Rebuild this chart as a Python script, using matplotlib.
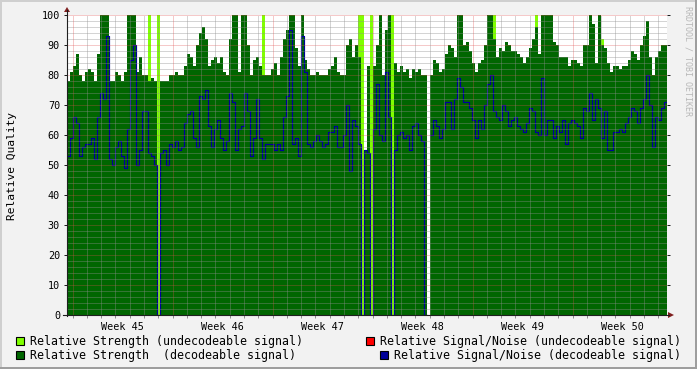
import numpy as np
import matplotlib
matplotlib.use("Agg")
import matplotlib.pyplot as plt
from matplotlib.patches import Rectangle, Polygon
from matplotlib.lines import Line2D

nan = np.nan

# ---- data (one sample every ~5 hours, starting shortly before week 45) ----
strength_dec = [
    78, 81, 83, 87, 80, 78, 81, 82, 81, 78,
    87, 100, 100, 100, 78, 78, 81, 80, 78, 81,
    100, 100, 100, 81, 86, 80, 80, 78, 79, 78,
    nan, 78, 78, 78, 80, 80, 81, 80, 80, 83,
    87, 86, 83, 90, 94, 96, 92, 83, 85, 86,
    84, 86, 81, 80, 92, 100, 100, 81, 100, 100,
    90, 80, 85, 86, 83, 80, 80, 80, 82, 84,
    80, 86, 92, 95, 100, 100, 89, 83, 100, 85,
    82, 80, 80, 81, 80, 80, 80, 82, 83, 86,
    81, 80, 80, 90, 92, 86, 90, 86, nan, 55,
    83, nan, 83, 90, 100, 80, 95, 100, nan, 84,
    81, 83, 81, 82, 79, 82, 81, 82, 80, 80,
    nan, 80, 85, 84, 81, 82, 87, 90, 89, 86,
    100, 100, 90, 91, 88, 84, 81, 84, 85, 90,
    100, 100, 92, 86, 89, 88, 91, 90, 88, 88,
    87, 86, 84, 86, 89, 92, 96, 87, 100, 100,
    100, 100, 91, 90, 86, 86, 86, 83, 85, 85,
    84, 83, 90, 90, 100, 97, 84, 100, 90, 89,
    84, 81, 83, 83, 82, 83, 83, 85, 88, 87,
    85, 90, 93, 98, 86, 80, 86, 88, 90, 90,
]

strength_undec = [nan] * 200
for _i, _v in [(27, 100), (30, 100), (65, 100), (97, 100), (98, 100),
               (101, 100), (108, 100), (142, 100), (156, 100), (178, 92)]:
    strength_undec[_i] = _v

snr_dec = [
    53, 59, 66, 64, 53, 56, 57, 57, 59, 52,
    66, 74, 72, 93, 52, 50, 56, 58, 53, 49,
    62, 85, 90, 50, 55, 68, 68, 54, 53, 50,
    0, 54, 55, 50, 57, 56, 58, 55, 56, 64,
    67, 68, 59, 56, 73, 72, 75, 63, 56, 62,
    65, 59, 55, 58, 74, 71, 55, 62, 63, 74,
    68, 53, 59, 72, 59, 52, 57, 57, 57, 55,
    57, 55, 66, 73, 95, 57, 59, 53, 93, 81,
    57, 56, 58, 60, 58, 56, 57, 61, 61, 63,
    56, 56, 60, 70, 48, 65, 63, 57, 0, 55,
    54, 0, 62, 77, 60, 58, 81, 66, 0, 55,
    60, 61, 59, 60, 55, 63, 64, 60, 58, 0,
    nan, 60, 65, 63, 59, 62, 71, 71, 62, 72,
    79, 76, 71, 71, 69, 65, 59, 65, 62, 70,
    77, 80, 68, 66, 65, 70, 68, 63, 65, 66,
    63, 62, 61, 64, 69, 68, 61, 60, 79, 60,
    65, 65, 59, 63, 61, 65, 57, 64, 65, 64,
    63, 59, 69, 68, 74, 65, 72, 69, 59, 68,
    55, 55, 61, 61, 62, 61, 64, 66, 69, 68,
    64, 69, 72, 80, 70, 56, 66, 65, 69, 71,
]

week_labels = ["Week 45", "Week 46", "Week 47", "Week 48", "Week 49", "Week 50"]
y_ticks = list(range(0, 101, 10))
legend_items = [
    ("Relative Strength (undecodeable signal)", "#80FF00"),
    ("Relative Signal/Noise (undecodeable signal)", "#FF0000"),
    ("Relative Strength  (decodeable signal)", "#006600"),
    ("Relative Signal/Noise (decodeable signal)", "#000099"),
]

start_day = -0.385   # days relative to start of week 45
step_day = 0.21

# ---- styling ----
W, H = 697, 369
BG = (0.95, 0.95, 0.95)
GRID = (0.56, 0.56, 0.56, 0.75)
MGRID = (0.87, 0.31, 0.31, 0.60)
ARROW = (0.50, 0.12, 0.12)
AXIS = (0.12, 0.12, 0.12)
MONO = "DejaVu Sans Mono"

def fx(x):
    return x / W

def fy(y):
    return 1 - y / H

fig = plt.figure(figsize=(W / 100, H / 100), dpi=100, facecolor=BG)

# 3D frame
fig.patches.append(Rectangle((0, fy(2)), 1, 2 / H, transform=fig.transFigure,
                             color=(0.81, 0.81, 0.81), lw=0))
fig.patches.append(Rectangle((0, 0), 2 / W, 1, transform=fig.transFigure,
                             color=(0.81, 0.81, 0.81), lw=0))
fig.patches.append(Rectangle((0, 0), 1, 2 / H, transform=fig.transFigure,
                             color=(0.62, 0.62, 0.62), lw=0))
fig.patches.append(Rectangle((fx(W - 2), 0), 2 / W, 1, transform=fig.transFigure,
                             color=(0.62, 0.62, 0.62), lw=0))

ax = fig.add_axes([fx(67), fy(315), 600 / W, 300 / H])
ax.set_facecolor("white")
for s in ax.spines.values():
    s.set_visible(False)

n = len(strength_dec)
edges = start_day + step_day * np.arange(n + 1)
undec = np.nan_to_num(np.array(strength_undec, dtype=float))
dec = np.nan_to_num(np.array(strength_dec, dtype=float))
snr = np.array(snr_dec, dtype=float)

ax.stairs(undec, edges, fill=True, color="#80FF00", lw=0, zorder=1)
ax.stairs(dec, edges, fill=True, color="#006600", lw=0, zorder=2)
ax.step(edges, np.append(snr, snr[-1]), where="post", color="#000099", lw=0.85, zorder=3)

ax.set_xlim(edges[0], edges[-1])
ax.set_ylim(0, 100)

# grid on top
for v in range(2, 101, 2):
    col = MGRID if v % 10 == 0 else GRID
    ax.axhline(v, color=col, lw=0.72, ls=(0, (1, 1)), zorder=4)
day = 0
while day < edges[-1]:
    col = MGRID if day % 7 == 0 else GRID
    ax.axvline(day, color=col, lw=0.72, ls=(0, (1, 1)), zorder=4)
    day += 1

# ticks
ax.set_yticks(y_ticks)
ax.set_yticklabels([str(v) for v in y_ticks], fontfamily=MONO, fontsize=7.3)
ax.tick_params(axis="y", which="major", length=2.5, width=0.72, color=AXIS, pad=2.5,
               right=True, labelright=False)
mid = [3.5 + 7 * k for k in range(len(week_labels))]
ax.set_xticks(mid)
ax.set_xticklabels(week_labels, fontfamily=MONO, fontsize=7.3)
ax.tick_params(axis="x", which="major", length=0, pad=5)
ax.set_xticks([d for d in range(0, 42)], minor=True)
ax.tick_params(axis="x", which="minor", length=2, width=0.72, color=(0.56, 0.56, 0.56))

# axis lines and arrows
fig.add_artist(Line2D([fx(67), fx(67)], [fy(316), fy(10)], transform=fig.transFigure,
                      color=AXIS, lw=0.8))
fig.add_artist(Line2D([fx(63), fx(669)], [fy(315), fy(315)], transform=fig.transFigure,
                      color=AXIS, lw=0.8))
fig.add_artist(Polygon([(fx(64), fy(12)), (fx(70), fy(12)), (fx(67), fy(7))],
                       closed=True, transform=fig.transFigure, color=ARROW, lw=0))
fig.add_artist(Polygon([(fx(668), fy(312)), (fx(668), fy(318)), (fx(674), fy(315))],
                       closed=True, transform=fig.transFigure, color=ARROW, lw=0))

# y axis title & watermark
fig.text(fx(12), fy(166), "Relative Quality", rotation=90, ha="center", va="center",
         fontfamily=MONO, fontsize=8.1)
fig.text(fx(688), fy(61), "RRDTOOL / TOBI OETIKER", rotation=270, ha="center", va="center",
         fontfamily=MONO, fontsize=6.0, color=(0.72, 0.72, 0.72))

# legend
leg_pos = [(16, 30, 341), (366, 380, 341), (16, 30, 355), (380, 394, 355)]
for (label, col), (bx, tx, ty) in zip(legend_items, leg_pos):
    fig.patches.append(Rectangle((fx(bx), fy(ty + 4)), 8 / W, 8 / H, transform=fig.transFigure,
                                 facecolor=col, edgecolor="black", lw=0.8))
    fig.text(fx(tx), fy(ty), label, ha="left", va="center", fontfamily=MONO, fontsize=8.37)

fig.savefig("out.png", dpi=100, facecolor=BG)
